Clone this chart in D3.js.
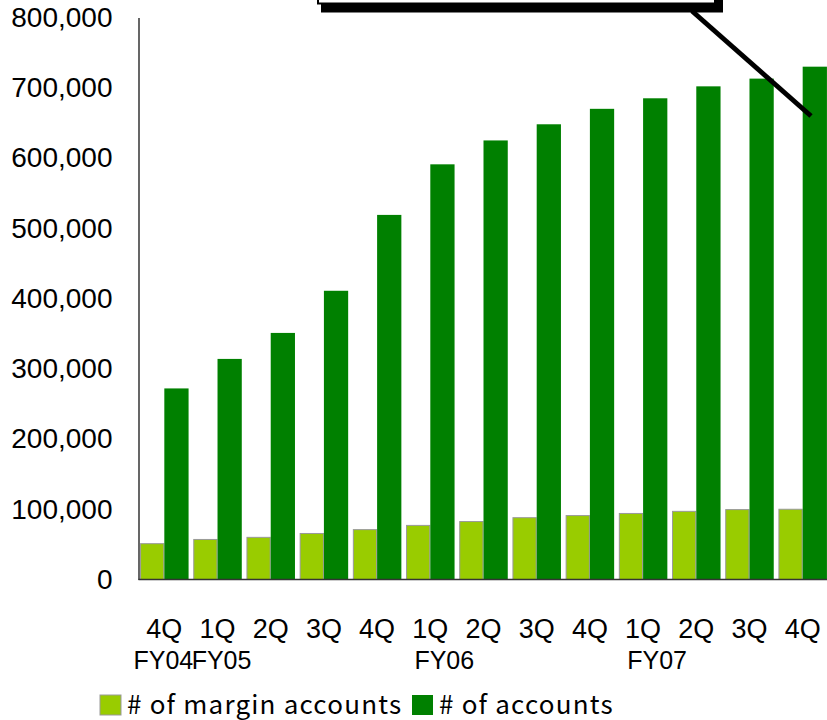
<html>
  <head>
    <title>Accounts</title>
    <style>
      body { margin: 0; background: #fff; }
    </style>
  </head>
  <body>
  <script src="https://d3js.org/d3.v7.min.js"></script>
    <script>
    var w = 827;
    var h = 720;

    var quarters = ['4Q', '1Q', '2Q', '3Q', '4Q', '1Q', '2Q', '3Q', '4Q', '1Q', '2Q', '3Q', '4Q'];
    var fiscalYears = ['FY04', 'FY05', '', '', '', 'FY06', '', '', '', 'FY07', '', '', ''];
    var marginAccounts = [51000, 57000, 60000, 65500, 71000, 77000, 82500, 88000, 91000, 94000, 97000, 99500, 100000];
    var accounts = [272000, 314000, 351000, 411000, 519000, 591000, 625000, 648000, 670000, 685000, 702000, 713000, 730000];
    var seriesNames = ['# of margin accounts', '# of accounts'];
    var yTicks = [0, 100000, 200000, 300000, 400000, 500000, 600000, 700000, 800000];

    var svg = d3.select('body')
                .append('svg')
                .attr('width', w)
                .attr('height', h);

    var idx = d3.range(quarters.length);

    var x = d3.scaleBand()
              .domain(idx)
              .range([139, 828])
              .paddingInner(0.088)
              .paddingOuter(0.02);

    var x1 = d3.scaleBand()
               .domain([0, 1])
               .range([0, x.bandwidth()]);

    var y = d3.scaleLinear()
              .domain([0, 800000])
              .range([579.5, 17.5]);

    // light bars (margin accounts)
    svg.selectAll('rect.margin')
       .data(marginAccounts)
       .enter()
       .append('rect')
       .attr('class', 'margin')
       .attr('x', (d, i) => x(i) + x1(0) + 0.5)
       .attr('y', d => y(d))
       .attr('width', x1.bandwidth() - 1)
       .attr('height', d => y(0) - y(d))
       .attr('fill', '#99cc00')
       .attr('stroke', '#999')
       .attr('stroke-width', 1);

    // dark bars (accounts)
    svg.selectAll('rect.acc')
       .data(accounts)
       .enter()
       .append('rect')
       .attr('class', 'acc')
       .attr('x', (d, i) => x(i) + x1(1))
       .attr('y', d => y(d))
       .attr('width', x1.bandwidth())
       .attr('height', d => y(0) - y(d))
       .attr('fill', '#008000');

    // y axis
    var yAxis = d3.axisLeft(y)
                  .tickValues(yTicks)
                  .tickSize(0)
                  .tickPadding(26)
                  .tickFormat(d3.format(','));

    var gy = svg.append('g')
                .attr('transform', 'translate(138.5,0)')
                .call(yAxis);
    gy.select('.domain').attr('stroke', '#000').attr('stroke-width', 1.2);
    gy.selectAll('text')
      .attr('font-family', "'Liberation Sans', Arial, sans-serif")
      .attr('font-size', 28)
      .attr('fill', '#000');

    // baseline
    svg.append('line')
       .attr('x1', 138.5)
       .attr('x2', w)
       .attr('y1', y(0))
       .attr('y2', y(0))
       .attr('stroke', '#333')
       .attr('stroke-width', 1.5);

    // x labels
    svg.selectAll('text.q')
       .data(quarters)
       .enter()
       .append('text')
       .attr('class', 'q')
       .attr('x', (d, i) => x(i) + x.bandwidth() / 2)
       .attr('y', 638)
       .attr('text-anchor', 'middle')
       .attr('font-family', "'Liberation Sans', Arial, sans-serif")
       .attr('font-size', 27)
       .text(d => d);

    var fyShift = [-1, 4, 0, 0, 0, 14, 0, 0, 0, 14, 0, 0, 0];
    svg.selectAll('text.fy')
       .data(fiscalYears)
       .enter()
       .append('text')
       .attr('class', 'fy')
       .attr('x', (d, i) => x(i) + x.bandwidth() / 2 + fyShift[i])
       .attr('y', 669)
       .attr('text-anchor', 'middle')
       .attr('font-family', "'Liberation Sans', Arial, sans-serif")
       .attr('font-size', 25)
       .text(d => d);

    // callout box cut off at top
    svg.append('rect')
       .attr('x', 321).attr('y', -40)
       .attr('width', 402).attr('height', 52.5)
       .attr('fill', '#000');
    svg.append('rect')
       .attr('x', 318).attr('y', -40)
       .attr('width', 397).attr('height', 43.5)
       .attr('fill', '#fff')
       .attr('stroke', '#000')
       .attr('stroke-width', 2);
    svg.append('line')
       .attr('x1', 692).attr('y1', 11)
       .attr('x2', 811).attr('y2', 116)
       .attr('stroke', '#000')
       .attr('stroke-width', 5);

    // legend
    var legendColors = ['#99cc00', '#008000'];
    var legendX = [100, 412];
    var lg = svg.selectAll('g.legend')
                .data(seriesNames)
                .enter()
                .append('g')
                .attr('class', 'legend')
                .attr('transform', (d, i) => 'translate(' + legendX[i] + ',695)');
    lg.append('rect')
      .attr('width', 21)
      .attr('height', 20)
      .attr('fill', (d, i) => legendColors[i])
      .attr('stroke', (d, i) => i == 0 ? '#999' : 'none');
    lg.append('text')
      .attr('x', 27)
      .attr('y', 19)
      .attr('font-family', "'Noto Sans CJK JP', sans-serif")
      .attr('font-size', 26)
      .attr('letter-spacing', 1.2)
      .text(d => d);
    </script>
  </body>
</html>
